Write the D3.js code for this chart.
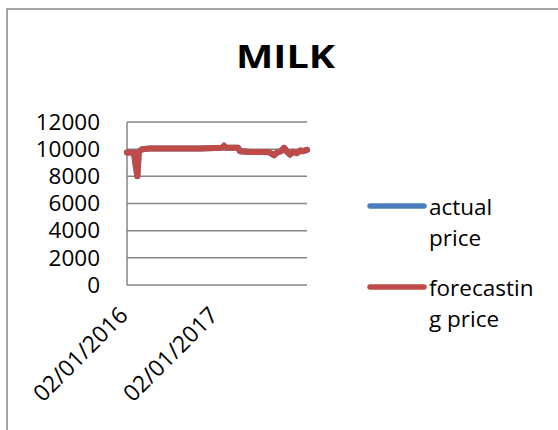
<!DOCTYPE html>
<html>
<head>
<meta charset="utf-8">
<script src="https://cdn.jsdelivr.net/npm/d3@7"></script>
<style>
  html, body { margin: 0; padding: 0; background: #fff; }
  svg { display: block; }
  text { font-family: "Open Sans", "Liberation Sans", sans-serif; fill: #000; }
</style>
</head>
<body>
<svg id="chart" width="558" height="430"></svg>
<script>
// Milk price series: observation dates and prices
const dates = [
  "2016-02-01", "2016-02-29", "2016-03-14", "2016-03-20", "2016-04-02",
  "2016-05-04", "2016-08-14", "2016-11-23", "2017-02-21", "2017-03-01",
  "2017-03-09", "2017-04-27", "2017-05-05", "2017-06-15", "2017-08-27",
  "2017-09-12", "2017-09-20", "2017-10-02", "2017-10-18", "2017-10-31",
  "2017-11-12", "2017-11-24", "2017-12-06", "2017-12-22", "2018-01-04",
  "2018-01-16", "2018-02-01"
];
const actualPrice = [
  9750, 9750, 8000, 9800, 10000,
  10050, 10050, 10050, 10100, 10250,
  10100, 10100, 9850, 9800, 9800,
  9650, 9550, 9750, 9850, 10100,
  9800, 9600, 9800, 9700, 9900,
  9850, 9950
];
const forecastPrice = [
  9750, 9750, 8000, 9800, 10000,
  10050, 10050, 10050, 10100, 10250,
  10100, 10100, 9850, 9800, 9800,
  9650, 9550, 9750, 9850, 10100,
  9800, 9600, 9800, 9700, 9900,
  9850, 9950
];
const yTicks = [0, 2000, 4000, 6000, 8000, 10000, 12000];
const xTickDates = ["2016-02-01", "2017-02-01"];
const seriesNames = ["actual price", "forecasting price"];
const seriesColors = ["#4A7EBB", "#BE4B48"];

const parse = d3.timeParse("%Y-%m-%d");
const fmt = d3.timeFormat("%m/%d/%Y");

const svg = d3.select("#chart");

// outer chart frame
svg.append("rect")
  .attr("x", 7).attr("y", 9)
  .attr("width", 560).attr("height", 440)
  .attr("fill", "#fff")
  .attr("stroke", "#868686")
  .attr("stroke-width", 1.5);

// title
svg.append("text")
  .attr("x", 236).attr("y", 68)
  .attr("textLength", 99)
  .attr("lengthAdjust", "spacingAndGlyphs")
  .style("font-size", "33px")
  .style("font-weight", "bold")
  .text("MILK");

const plot = { left: 127, right: 307, top: 122, bottom: 285 };

const x = d3.scaleTime()
  .domain([parse("2016-02-01"), parse("2018-02-01")])
  .range([plot.left, plot.right]);
const y = d3.scaleLinear()
  .domain([0, 12000])
  .range([plot.bottom, plot.top]);

// horizontal gridlines
svg.append("g")
  .selectAll("line")
  .data(yTicks)
  .join("line")
  .attr("x1", plot.left).attr("x2", plot.right)
  .attr("y1", d => y(d)).attr("y2", d => y(d))
  .attr("stroke", "#868686")
  .attr("stroke-width", 1.5);

// vertical axis line
svg.append("line")
  .attr("x1", plot.left).attr("x2", plot.left)
  .attr("y1", plot.top).attr("y2", plot.bottom)
  .attr("stroke", "#868686")
  .attr("stroke-width", 1.5);

// y tick labels
const yAxis = d3.axisLeft(y)
  .tickValues(yTicks)
  .tickFormat(d3.format("d"))
  .tickSize(0)
  .tickPadding(27);
const gy = svg.append("g")
  .attr("transform", `translate(${plot.left},0)`)
  .call(yAxis);
gy.select(".domain").remove();
gy.selectAll("text")
  .style("font-size", "22.5px")
  .style("font-family", "'Open Sans', sans-serif")
  .attr("fill", "#000");

// x tick labels, rotated
const xAxis = d3.axisBottom(x)
  .tickValues(xTickDates.map(parse))
  .tickFormat(fmt)
  .tickSize(0);
const gx = svg.append("g")
  .attr("transform", `translate(0,${plot.bottom})`)
  .call(xAxis);
gx.select(".domain").remove();
gx.selectAll(".tick text")
  .attr("y", 0)
  .attr("dy", "0.35em")
  .attr("transform", "translate(-4,26) rotate(-45)")
  .style("text-anchor", "end")
  .style("font-size", "23px")
  .style("font-family", "'Open Sans', sans-serif")
  .attr("fill", "#000");

// series lines
const line = d3.line()
  .x(d => x(d.date))
  .y(d => y(d.value));

[actualPrice, forecastPrice].forEach((vals, i) => {
  const pts = dates.map((d, j) => ({ date: parse(d), value: vals[j] }));
  svg.append("path")
    .datum(pts)
    .attr("d", line)
    .attr("fill", "none")
    .attr("stroke", seriesColors[i])
    .attr("stroke-width", 6)
    .attr("stroke-linejoin", "round")
    .attr("stroke-linecap", "round");
});

// legend
const legendRows = [
  { lineY: 206, lines: ["actual", "price"] },
  { lineY: 287, lines: ["forecastin", "g price"] }
];
legendRows.forEach((row, i) => {
  svg.append("line")
    .attr("x1", 370).attr("x2", 424)
    .attr("y1", row.lineY).attr("y2", row.lineY)
    .attr("stroke", seriesColors[i])
    .attr("stroke-width", 5.5)
    .attr("stroke-linecap", "round");
  const t = svg.append("text")
    .attr("x", 429).attr("y", row.lineY + 9)
    .style("font-size", "22.5px");
  row.lines.forEach((s, k) => {
    t.append("tspan")
      .attr("x", 429)
      .attr("dy", k === 0 ? 0 : 31)
      .text(s);
  });
});
</script>
</body>
</html>
